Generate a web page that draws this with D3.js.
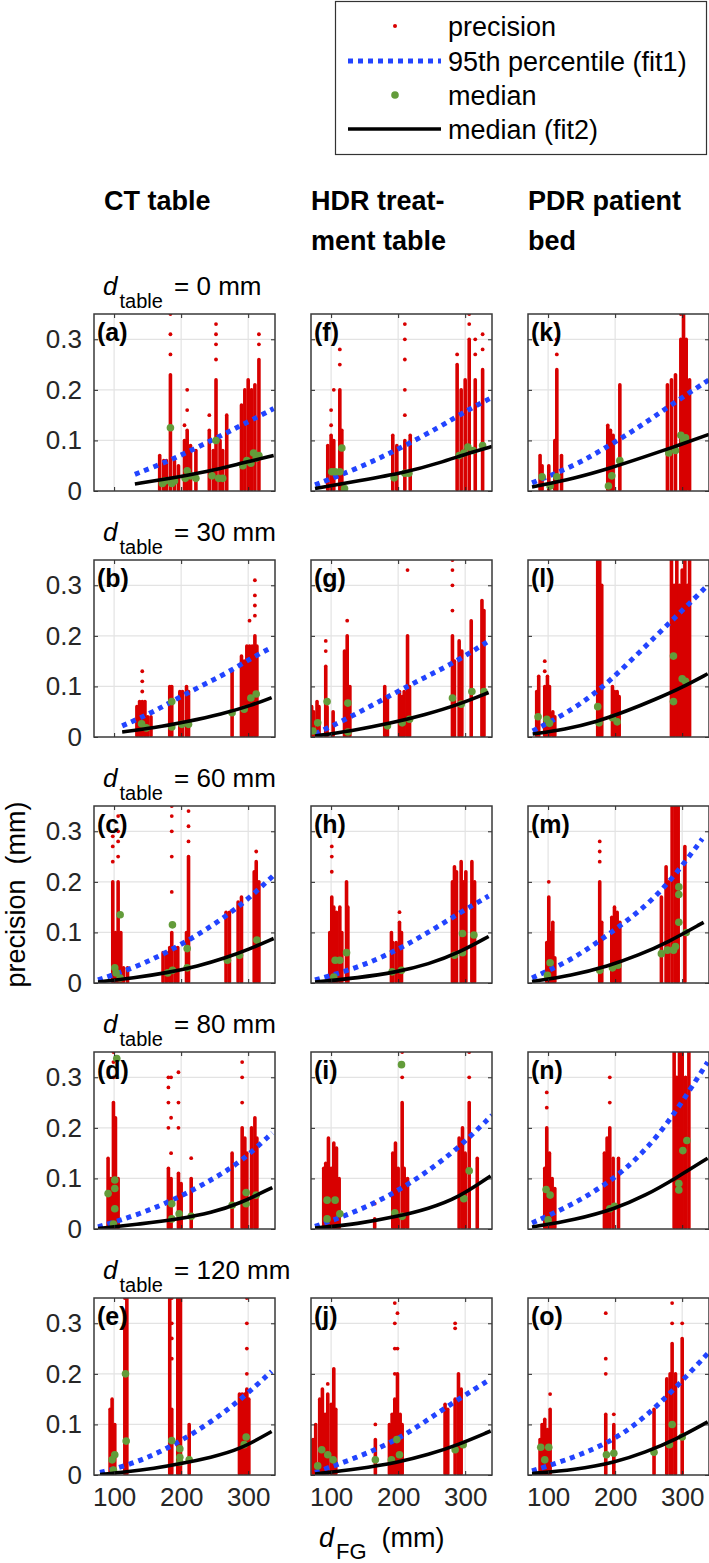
<!DOCTYPE html>
<html>
<head>
<meta charset="utf-8">
<script src="https://cdn.jsdelivr.net/npm/d3@7"></script>
<style>
  body { margin: 0; background: #fff; }
  svg { display: block; font-family: "Liberation Sans", Arial, sans-serif; }
</style>
</head>
<body>
<div id="chart"></div>
<script>
// titles, rows, ticks
const columnTitles = [["CT table"], ["HDR treat-", "ment table"], ["PDR patient", "bed"]];
const tableDistances = [0, 30, 60, 80, 120];
const panelLetters = [["a", "b", "c", "d", "e"], ["f", "g", "h", "i", "j"], ["k", "l", "m", "n", "o"]];
const xTicks = [100, 200, 300];
const yTicks = [0, 0.1, 0.2, 0.3];
const legendLabels = ["precision", "95th percentile (fit1)", "median", "median (fit2)"];

// precision columns: [d_FG, top of dense part, [sparse points above]]
const precisionCT = [
    [[168,0.07],[174,0.06],[178,0.06],[184,0.23,[0.27,0.31,0.35]],[190,0.06],[196,0.05],[205,0.1,[0.13]],[209,0.12,[0.16,0.2]],[214,0.09],[222,0.08],[242,0.12,[0.15]],[248,0.08],[252,0.22,[0.26,0.29,0.31,0.33]],[258,0.1],[262,0.08],[268,0.15],[290,0.17],[295,0.2],[300,0.22],[305,0.2],[310,0.21],[316,0.26,[0.29,0.31]]],
    [[134,0.06],[138,0.07],[142,0.07,[0.09,0.11,0.13]],[146,0.07],[150,0.04],[155,0.04],[183,0.1],[186,0.1],[198,0.09],[202,0.09],[208,0.1],[211,0.09],[276,0.13],[290,0.16],[294,0.15],[298,0.18],[302,0.18,[0.23]],[306,0.18],[310,0.2,[0.24,0.26,0.28,0.31]],[313,0.18]],
    [[98,0.2,[0.24,0.27,0.29]],[102,0.1],[106,0.2,[0.25,0.28,0.3,0.33]],[110,0.1],[114,0.03],[120,0.03],[173,0.06],[178,0.06],[183,0.07],[186,0.1,[0.18,0.25,0.3,0.33,0.35]],[191,0.07],[195,0.07],[208,0.1],[211,0.25,[0.28,0.31,0.34]],[267,0.14],[272,0.14],[285,0.16],[290,0.17],[309,0.22],[312,0.24,[0.26]],[316,0.2]],
    [[91,0.14],[95,0.1],[99,0.25,[0.3,0.33,0.35]],[102,0.22],[106,0.1],[181,0.12,[0.2,0.25,0.28,0.3]],[185,0.1,[0.15,0.22,0.3]],[196,0.11,[0.2,0.25,0.31]],[200,0.09],[215,0.1,[0.14]],[276,0.15],[291,0.2,[0.25,0.3,0.33]],[295,0.18],[298,0.15],[305,0.2],[310,0.22],[313,0.18]],
    [[94,0.13],[97,0.15],[101,0.1],[116,0.3,[0.35]],[119,0.35],[183,0.35],[186,0.13,[0.23,0.27,0.3,0.35]],[195,0.35],[199,0.35],[212,0.1],[287,0.16],[291,0.16],[295,0.16],[298,0.17,[0.2,0.25,0.3,0.35]],[301,0.15]]
];
const precisionHDR = [
    [[95,0.09],[100,0.11,[0.13,0.16]],[104,0.1,[0.2]],[113,0.2,[0.25,0.28]],[116,0.12],[192,0.11],[198,0.09],[210,0.1,[0.15,0.2,0.26,0.3,0.33]],[218,0.11],[288,0.25,[0.27]],[294,0.2],[300,0.22],[306,0.3,[0.33,0.35]],[315,0.22,[0.27,0.3]],[326,0.24,[0.28,0.31]]],
    [[71,0.06],[74,0.05],[79,0.07],[82,0.06],[92,0.14,[0.17,0.19]],[94,0.06],[103,0.05],[120,0.17],[124,0.2,[0.23]],[128,0.1],[180,0.1],[184,0.08],[202,0.09],[206,0.08],[209,0.09],[214,0.2,[0.33]],[217,0.1],[281,0.2,[0.25,0.3,0.33,0.35]],[284,0.15],[291,0.19],[295,0.17],[309,0.23],[325,0.27],[328,0.25]],
    [[98,0.1],[101,0.17,[0.22,0.25,0.27]],[104,0.15],[108,0.14],[113,0.15],[116,0.1],[123,0.2],[125,0.15],[190,0.1],[192,0.08],[197,0.08],[202,0.12,[0.14]],[205,0.1],[281,0.2],[284,0.23],[287,0.22],[294,0.24],[298,0.2],[301,0.22],[310,0.24],[314,0.2]],
    [[89,0.12],[92,0.13],[96,0.18],[100,0.12],[104,0.17],[108,0.16],[112,0.1],[165,0.02,[0.05]],[192,0.15],[196,0.17],[200,0.12],[206,0.25,[0.3,0.35]],[209,0.12],[214,0.1],[291,0.18],[296,0.2],[300,0.15],[306,0.25,[0.3,0.35]],[318,0.14]],
    [[73,0.07],[77,0.1],[83,0.15],[87,0.17],[91,0.12],[95,0.16,[0.18]],[100,0.14],[104,0.21],[107,0.13],[166,0.07,[0.1]],[187,0.1],[191,0.12],[195,0.15,[0.2,0.25,0.3,0.34]],[199,0.2,[0.25,0.32]],[203,0.12],[206,0.1],[270,0.14],[274,0.13],[285,0.15,[0.29,0.3]],[290,0.2],[294,0.17]]
];
const precisionPDR = [
    [[88,0.07],[91,0.05],[101,0.05],[110,0.1],[113,0.24,[0.27,0.3,0.33]],[120,0.07],[189,0.13],[193,0.12],[197,0.11],[207,0.21],[278,0.21],[284,0.22],[290,0.23],[298,0.3,[0.35]],[302,0.35],[306,0.3],[311,0.22]],
    [[83,0.09],[86,0.12],[95,0.1,[0.13,0.15]],[99,0.12],[102,0.1],[107,0.05],[110,0.04],[174,0.35],[177,0.35],[180,0.3],[196,0.1],[199,0.09],[203,0.09],[206,0.08],[284,0.35],[288,0.3],[292,0.35],[296,0.3],[300,0.33],[304,0.35],[308,0.3],[311,0.35]],
    [[98,0.08],[101,0.17,[0.2]],[104,0.1],[107,0.12],[110,0.05],[177,0.2,[0.24,0.26,0.28]],[180,0.12],[195,0.13],[199,0.15],[203,0.14],[207,0.12],[269,0.17],[276,0.23],[280,0.2],[285,0.35],[290,0.35],[294,0.35],[304,0.27]],
    [[95,0.12],[98,0.2,[0.24,0.27]],[102,0.15],[106,0.1],[110,0.08],[184,0.15],[188,0.18],[192,0.2,[0.25,0.3]],[197,0.14],[205,0.14],[288,0.35],[292,0.3],[296,0.35],[300,0.35],[305,0.3],[310,0.35]],
    [[88,0.07],[91,0.1],[95,0.11],[99,0.09],[103,0.13,[0.16]],[186,0.12,[0.2,0.23,0.32]],[198,0.1,[0.12]],[258,0.13],[277,0.19],[282,0.2],[285,0.26,[0.3,0.34]],[290,0.2],[300,0.27,[0.3]]]
];

// medians: [d_FG, precision]
const medianCT = [
    [[172,0.015],[176,0.02],[184,0.125],[186,0.015],[190,0.02],[206,0.025],[209,0.04],[214,0.03],[222,0.025],[246,0.03],[252,0.1],[256,0.025],[262,0.025],[292,0.05],[298,0.06],[304,0.055],[308,0.075],[312,0.065],[316,0.07]],
    [[141,0.026],[148,0.018],[186,0.07],[186,0.02],[201,0.025],[211,0.025],[276,0.048],[294,0.055],[304,0.077],[312,0.085]],
    [[101,0.03],[109,0.135],[109,0.01],[103,0.02],[187,0.115],[187,0.025],[180,0.02],[209,0.068],[209,0.03],[269,0.045],[287,0.055],[313,0.085]],
    [[91,0.07],[101,0.097],[101,0.08],[101,0.04],[104,0.337],[99,0.01],[186,0.05],[186,0.02],[197,0.03],[215,0.025],[276,0.047],[297,0.072],[297,0.05],[312,0.067]],
    [[97,0.03],[101,0.04],[99,0.01],[117,0.2],[118,0.067],[186,0.068],[198,0.052],[198,0.035],[198,0.025],[212,0.03],[294,0.06],[297,0.075]]
];
const medianHDR = [
    [[101,0.038],[106,0.038],[113,0.038],[116,0.085],[120,0.005],[194,0.026],[210,0.035],[216,0.035],[291,0.07],[298,0.075],[304,0.087],[312,0.08],[326,0.09]],
    [[73,0.012],[80,0.028],[94,0.07],[125,0.067],[125,0.01],[184,0.022],[206,0.028],[217,0.035],[281,0.077],[294,0.065],[310,0.09],[328,0.09]],
    [[106,0.045],[113,0.045],[123,0.06],[104,0.012],[191,0.022],[205,0.025],[284,0.055],[296,0.098],[296,0.06],[313,0.095]],
    [[94,0.057],[106,0.057],[113,0.03],[94,0.02],[195,0.032],[206,0.025],[205,0.325],[298,0.06],[306,0.115]],
    [[80,0.018],[86,0.05],[95,0.04],[103,0.03],[166,0.03],[190,0.03],[198,0.07],[202,0.04],[285,0.05],[297,0.06]]
];
const medianPDR = [
    [[91,0.028],[103,0.01],[113,0.028],[190,0.01],[195,0.03],[207,0.06],[280,0.075],[290,0.08],[298,0.11],[302,0.1],[305,0.105]],
    [[85,0.04],[98,0.035],[102,0.027],[174,0.06],[176,0.028],[196,0.038],[203,0.03],[287,0.16],[287,0.07],[300,0.115],[305,0.11]],
    [[103,0.04],[99,0.015],[177,0.025],[196,0.03],[204,0.035],[269,0.058],[278,0.065],[287,0.065],[290,0.072],[295,0.12],[295,0.175],[295,0.19],[306,0.1]],
    [[97,0.078],[103,0.067],[100,0.018],[192,0.04],[199,0.045],[295,0.077],[295,0.09],[301,0.155],[307,0.175]],
    [[89,0.055],[95,0.03],[101,0.055],[187,0.04],[198,0.043],[258,0.045],[281,0.06],[285,0.1],[300,0.075]]
];

// 95th percentile fit (fit1)
const fit1CT = [
    [[131,0.033],[183,0.06],[238,0.095],[290,0.13],[338,0.163]],
    [[112,0.022],[160,0.05],[208,0.087],[260,0.12],[306,0.157],[335,0.177]],
    [[76,0.006],[130,0.03],[178,0.06],[225,0.095],[267,0.132],[300,0.166],[338,0.213]],
    [[76,0.004],[140,0.03],[198,0.063],[245,0.097],[287,0.13],[336,0.19]],
    [[79,0.005],[118,0.018],[160,0.04],[198,0.066],[245,0.105],[290,0.15],[335,0.205]]
];
const fit1HDR = [
    [[76,0.012],[140,0.045],[198,0.081],[260,0.125],[306,0.162],[340,0.185]],
    [[76,0.006],[130,0.04],[192,0.085],[240,0.118],[288,0.15],[335,0.19]],
    [[76,0.006],[140,0.03],[199,0.065],[245,0.1],[291,0.138],[335,0.172]],
    [[76,0.005],[140,0.035],[200,0.075],[245,0.115],[290,0.16],[340,0.225]],
    [[76,0.005],[140,0.035],[200,0.07],[245,0.11],[290,0.15],[338,0.19]]
];
const fit1PDR = [
    [[76,0.016],[140,0.05],[194,0.092],[240,0.13],[283,0.17],[340,0.22]],
    [[77,0.012],[125,0.045],[172,0.087],[215,0.14],[261,0.2],[300,0.25],[338,0.3]],
    [[76,0.01],[135,0.045],[189,0.095],[235,0.14],[278,0.193],[330,0.285]],
    [[76,0.012],[140,0.05],[200,0.1],[245,0.155],[285,0.22],[338,0.33]],
    [[76,0.008],[140,0.035],[200,0.07],[245,0.115],[285,0.165],[338,0.24]]
];

// median fit (fit2)
const fit2CT = [
    [[131,0.014],[183,0.025],[238,0.038],[290,0.055],[338,0.07]],
    [[112,0.01],[160,0.018],[208,0.03],[260,0.045],[306,0.063],[335,0.078]],
    [[76,0.002],[130,0.01],[178,0.02],[225,0.033],[267,0.05],[300,0.066],[338,0.088]],
    [[76,0.001],[140,0.01],[198,0.02],[245,0.032],[287,0.05],[336,0.082]],
    [[79,0.001],[118,0.006],[160,0.013],[198,0.022],[245,0.035],[287,0.05],[335,0.086]]
];
const fit2HDR = [
    [[76,0.005],[140,0.02],[212,0.037],[260,0.055],[310,0.077],[340,0.088]],
    [[76,0.002],[130,0.012],[192,0.028],[240,0.044],[288,0.063],[335,0.088]],
    [[76,0.002],[140,0.01],[199,0.022],[245,0.037],[291,0.06],[335,0.092]],
    [[76,0.002],[140,0.01],[200,0.025],[245,0.04],[290,0.062],[338,0.105]],
    [[76,0.002],[140,0.012],[200,0.025],[245,0.04],[290,0.06],[338,0.087]]
];
const fit2PDR = [
    [[76,0.008],[140,0.025],[197,0.047],[240,0.066],[283,0.085],[340,0.112]],
    [[77,0.006],[125,0.015],[172,0.03],[215,0.05],[261,0.075],[300,0.098],[338,0.125]],
    [[76,0.003],[135,0.015],[189,0.033],[235,0.055],[278,0.08],[332,0.12]],
    [[76,0.004],[140,0.018],[200,0.04],[245,0.066],[290,0.1],[338,0.14]],
    [[76,0.003],[140,0.01],[200,0.025],[245,0.045],[290,0.07],[338,0.105]]
];

const precisionCols = [precisionCT, precisionHDR, precisionPDR];
const medianCols = [medianCT, medianHDR, medianPDR];
const fit1Cols = [fit1CT, fit1HDR, fit1PDR];
const fit2Cols = [fit2CT, fit2HDR, fit2PDR];

const config = {
    width: 709,
    height: 1563,
    colLeft: [94, 311, 528],
    rowBottom: [491, 737, 983, 1229, 1475],
    panelW: 181,
    panelH: 177,
    color: { red: "#d80000", blue: "#2244ff", green: "#639c3a", black: "#000", axis: "#262626", grid: "#e3e3e3" }
};

const svg = d3.select("#chart")
    .append("svg")
    .attr("width", config.width)
    .attr("height", config.height);

const x = d3.scaleLinear().domain([70, 340]).range([0, config.panelW]);
const y = d3.scaleLinear().domain([0, 0.35]).range([config.panelH, 0]);
const line = d3.line().x(d => x(d[0])).y(d => y(d[1])).curve(d3.curveBasis);

// column titles
columnTitles.forEach((lines, c) => {
    const left = c === 0 ? 104 : config.colLeft[c];
    const t = svg.append("text")
        .attr("x", left)
        .attr("y", 210)
        .attr("font-size", 27)
        .attr("font-weight", "bold")
        .attr("fill", "#000");
    lines.forEach((s, i) => t.append("tspan")
        .attr("x", left)
        .attr("dy", i === 0 ? 0 : 40)
        .text(s));
});

// row labels: d_table = .. mm
tableDistances.forEach((dist, r) => {
    const top = config.rowBottom[r] - config.panelH;
    const t = svg.append("text")
        .attr("x", 103)
        .attr("y", top - 19)
        .attr("font-size", 26)
        .attr("fill", "#000");
    t.append("tspan").attr("font-style", "italic").text("d");
    t.append("tspan").attr("font-size", 20).attr("dx", 2).attr("dy", 13).text("table");
    t.append("tspan").attr("dx", 4).attr("dy", -13).text(` = ${dist} mm`);
});

// panels
config.colLeft.forEach((left, c) => {
    config.rowBottom.forEach((bottom, r) => {
        const g = svg.append("g")
            .attr("transform", `translate(${left},${bottom - config.panelH})`);
        const clipId = `clip-${c}-${r}`;
        g.append("clipPath").attr("id", clipId)
            .append("rect")
            .attr("width", config.panelW)
            .attr("height", config.panelH);

        // grid
        g.append("g").selectAll("line")
            .data(xTicks)
            .join("line")
            .attr("x1", d => x(d)).attr("x2", d => x(d))
            .attr("y1", 0).attr("y2", config.panelH)
            .attr("stroke", config.color.grid).attr("stroke-width", 1.2);
        g.append("g").selectAll("line")
            .data(yTicks.slice(1))
            .join("line")
            .attr("x1", 0).attr("x2", config.panelW)
            .attr("y1", d => y(d)).attr("y2", d => y(d))
            .attr("stroke", config.color.grid).attr("stroke-width", 1.2);

        const plot = g.append("g").attr("clip-path", `url(#${clipId})`);
        const strips = precisionCols[c][r];

        // precision: dense part of each column
        plot.append("g").selectAll("line")
            .data(strips)
            .join("line")
            .attr("x1", d => x(d[0])).attr("x2", d => x(d[0]))
            .attr("y1", y(0.003)).attr("y2", d => y(d[1]))
            .attr("stroke", config.color.red)
            .attr("stroke-width", 3.6)
            .attr("stroke-linecap", "round");

        // precision: sparse points
        plot.append("g").selectAll("circle")
            .data(strips.flatMap(d => (d[2] || []).map(v => [d[0], v])))
            .join("circle")
            .attr("cx", d => x(d[0])).attr("cy", d => y(d[1]))
            .attr("r", 1.9)
            .attr("fill", config.color.red);

        // 95th percentile fit
        plot.append("path")
            .datum(fit1Cols[c][r])
            .attr("d", line)
            .attr("fill", "none")
            .attr("stroke", config.color.blue)
            .attr("stroke-width", 5)
            .attr("stroke-dasharray", "5,5");

        // medians
        plot.append("g").selectAll("circle")
            .data(medianCols[c][r])
            .join("circle")
            .attr("cx", d => x(d[0])).attr("cy", d => y(d[1]))
            .attr("r", 3.8)
            .attr("fill", config.color.green);

        // median fit
        plot.append("path")
            .datum(fit2Cols[c][r])
            .attr("d", line)
            .attr("fill", "none")
            .attr("stroke", config.color.black)
            .attr("stroke-width", 3.6);

        // axes with inner ticks
        const showY = c === 0, showX = r === config.rowBottom.length - 1;
        const styleAxis = sel => {
            sel.select(".domain").remove();
            sel.selectAll(".tick line").attr("stroke", config.color.axis).attr("stroke-width", 1);
            sel.selectAll("text").attr("font-size", 26).attr("fill", config.color.axis)
                .attr("font-family", "Liberation Sans, Arial, sans-serif");
        };
        g.append("g")
            .call(d3.axisLeft(y).tickValues(yTicks).tickSize(-4).tickPadding(12)
                .tickFormat(showY ? d => d === 0 ? "0" : d3.format(".1f")(d) : ""))
            .call(styleAxis);
        g.append("g").attr("transform", `translate(${config.panelW},0)`)
            .call(d3.axisRight(y).tickValues(yTicks).tickSize(-4).tickFormat(""))
            .call(styleAxis);
        g.append("g").attr("transform", `translate(0,${config.panelH})`)
            .call(d3.axisBottom(x).tickValues(xTicks).tickSize(-4).tickPadding(13)
                .tickFormat(showX ? d3.format("d") : ""))
            .call(styleAxis);
        g.append("g")
            .call(d3.axisTop(x).tickValues(xTicks).tickSize(-4).tickFormat(""))
            .call(styleAxis);

        // box
        g.append("rect")
            .attr("width", config.panelW)
            .attr("height", config.panelH)
            .attr("fill", "none")
            .attr("stroke", "#3a3a3a")
            .attr("stroke-width", 1.5);

        // panel letter
        g.append("text")
            .attr("x", 3)
            .attr("y", 27)
            .attr("font-size", 25)
            .attr("font-weight", "bold")
            .attr("fill", "#000")
            .text(`(${panelLetters[c][r]})`);
    });
});

// axis titles
const yLabelY = (config.rowBottom[0] - config.panelH + config.rowBottom[4]) / 2;
svg.append("text")
    .attr("transform", `translate(25,${yLabelY}) rotate(-90)`)
    .attr("text-anchor", "middle")
    .attr("font-size", 27)
    .attr("fill", "#000")
    .attr("xml:space", "preserve")
    .text("precision  (mm)");

const xl = svg.append("text")
    .attr("x", 319)
    .attr("y", 1547)
    .attr("font-size", 27)
    .attr("fill", "#000")
    .attr("xml:space", "preserve");
xl.append("tspan").attr("font-style", "italic").text("d");
xl.append("tspan").attr("font-size", 22).attr("dx", 2).attr("dy", 12).text("FG");
xl.append("tspan").attr("dy", -12).text("  (mm)");

// legend
const legend = svg.append("g");
legend.append("rect")
    .attr("x", 335.5).attr("y", 1.5)
    .attr("width", 371).attr("height", 153)
    .attr("fill", "#fff")
    .attr("stroke", "#333")
    .attr("stroke-width", 1.2);
const rowY = [26, 61, 95, 129];
legend.append("circle").attr("cx", 395).attr("cy", rowY[0]).attr("r", 2).attr("fill", config.color.red);
legend.append("line").attr("x1", 348).attr("x2", 441).attr("y1", rowY[1]).attr("y2", rowY[1])
    .attr("stroke", config.color.blue).attr("stroke-width", 5).attr("stroke-dasharray", "5,5");
legend.append("circle").attr("cx", 395).attr("cy", rowY[2]).attr("r", 3.8).attr("fill", config.color.green);
legend.append("line").attr("x1", 348).attr("x2", 441).attr("y1", rowY[3]).attr("y2", rowY[3])
    .attr("stroke", config.color.black).attr("stroke-width", 3.6);
legend.selectAll("text")
    .data(legendLabels)
    .join("text")
    .attr("x", 448)
    .attr("y", (d, i) => rowY[i] + 9.5)
    .attr("font-size", 27)
    .attr("fill", "#000")
    .text(d => d);
</script>
</body>
</html>
